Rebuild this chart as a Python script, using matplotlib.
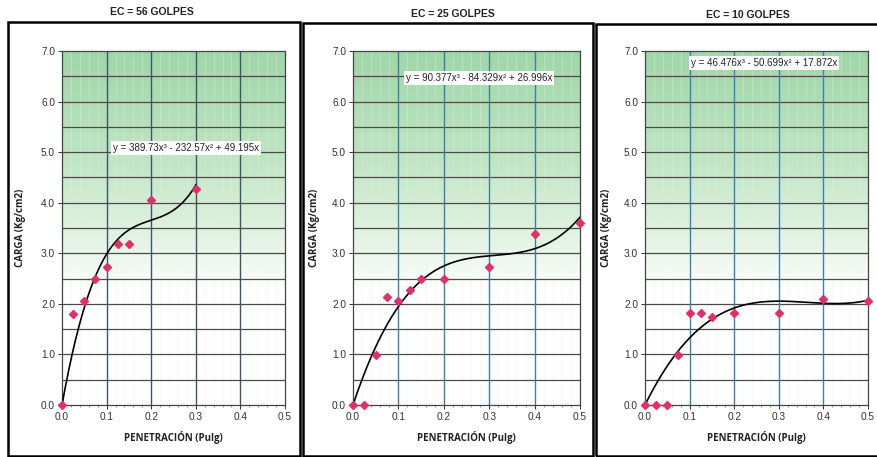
import numpy as np
import matplotlib
matplotlib.use("Agg")
import matplotlib.pyplot as plt
from matplotlib.patches import Rectangle
from matplotlib.colors import LinearSegmentedColormap

plt.rcParams['font.family'] = ['Liberation Sans', 'DejaVu Sans']

titles = ["EC = 56 GOLPES", "EC = 25 GOLPES", "EC = 10 GOLPES"]

x56 = [0.0, 0.025, 0.05, 0.075, 0.1, 0.125, 0.15, 0.2, 0.3]
y56 = [0.0, 1.80, 2.05, 2.50, 2.72, 3.18, 3.18, 4.05, 4.28]
c56 = [389.73, -232.57, 49.195]

x25 = [0.0, 0.025, 0.05, 0.075, 0.1, 0.125, 0.15, 0.2, 0.3, 0.4, 0.5]
y25 = [0.0, 0.0, 0.98, 2.13, 2.05, 2.28, 2.50, 2.50, 2.72, 3.38, 3.60]
c25 = [90.377, -84.329, 26.996]

x10 = [0.0, 0.025, 0.05, 0.075, 0.1, 0.125, 0.15, 0.2, 0.3, 0.4, 0.5]
y10 = [0.0, 0.0, 0.0, 0.98, 1.82, 1.82, 1.75, 1.82, 1.82, 2.10, 2.05]
c10 = [46.476, -50.699, 17.872]

eq_labels = ["y = 389.73x³ - 232.57x² + 49.195x",
             "y = 90.377x³ - 84.329x² + 26.996x",
             "y = 46.476x³ - 50.699x² + 17.872x"]
eq_pos = [(0.277, 5.08), (0.277, 6.47), (0.267, 6.76)]
xmax_fit = [0.3, 0.5, 0.5]

xticks = [0.0, 0.1, 0.2, 0.3, 0.4, 0.5]
yticks = [0.0, 1.0, 2.0, 3.0, 4.0, 5.0, 6.0, 7.0]

W, H = 877, 457
fig = plt.figure(figsize=(W / 100, H / 100), dpi=100)
fig.patch.set_facecolor('white')

def fx(px):
    return px / W

def fy(py):
    return 1 - py / H

frames = [(8, 22, 300, 456), (303, 23, 593, 456), (596, 24, 880, 456)]
for (l, t, r, b) in frames:
    fig.patches.append(Rectangle((fx(l), fy(b)), fx(r - l), (b - t) / H,
                                 transform=fig.transFigure, fill=False,
                                 edgecolor='black', linewidth=1.8, zorder=0))

title_pos = [(152, 12), (453, 14), (748, 15)]
axes_px = [(62, 285), (353, 580), (645, 868)]
ylab_x = [21, 315, 607]
top_px, bot_px = 51, 405

cmap = LinearSegmentedColormap.from_list(
    'g', [(0.0, '#9fd6a8'), (0.30, '#bfe5c2'), (0.55, '#e6f5e6'), (0.68, '#ffffff'), (1.0, '#ffffff')])

datasets = [(x56, y56, c56), (x25, y25, c25), (x10, y10, c10)]
vcolors = ['#3d5566', '#3f7f9e', '#3a7fb5']

for i, (xs, ys, cf) in enumerate(datasets):
    l, r = axes_px[i]
    ax = fig.add_axes([fx(l), fy(bot_px), fx(r - l), (bot_px - top_px) / H])
    grad = np.linspace(1, 0, 256).reshape(-1, 1)
    ax.imshow(grad, aspect='auto', cmap=cmap, vmin=0, vmax=1,
              extent=[0, 0.5, 0, 7], origin='lower', zorder=0)
    ax.set_xlim(0, 0.5)
    ax.set_ylim(0, 7)
    for xv in np.arange(0.02, 0.5, 0.02):
        ax.axvline(xv, color='#e9efe9', linewidth=0.5, alpha=0.5, zorder=1)
    for yv in np.arange(0.5, 7.0, 0.5):
        ax.axhline(yv, color='#4a4a4a', linewidth=0.9, zorder=2)
    for xv in xticks[1:-1]:
        ax.axvline(xv, color=vcolors[i], linewidth=1.0, zorder=2)
    xf = np.linspace(0, xmax_fit[i], 200)
    yf = cf[0] * xf ** 3 + cf[1] * xf ** 2 + cf[2] * xf
    ax.plot(xf, yf, color='black', linewidth=1.2, zorder=3)
    ax.plot(xs, ys, linestyle='none', marker='D', markersize=4.2,
            color='#e0306a', markeredgecolor='#e0306a', zorder=4, clip_on=False)
    ex, ey = eq_pos[i]
    ax.text(ex, ey, eq_labels[i], ha='center', va='center', fontsize=7,
            color='#222222', zorder=5,
            bbox=dict(facecolor='white', edgecolor='none', pad=1.5))
    ax.set_xticks(xticks)
    ax.set_xticklabels([f"{v:.1f}" for v in xticks])
    ax.set_yticks(yticks)
    ax.set_yticklabels([f"{v:.1f}" for v in yticks])
    ax.set_xticks(np.arange(0, 0.501, 0.02), minor=True)
    ax.tick_params(axis='both', which='major', labelsize=7.3, colors='#333333',
                   length=3, width=0.7, direction='out', pad=2)
    ax.tick_params(axis='x', which='minor', length=1.5, width=0.5, colors='#666666')
    for s in ax.spines.values():
        s.set_color('#444444')
        s.set_linewidth(0.9)
    tx, ty = title_pos[i]
    fig.text(fx(tx), fy(ty), titles[i], ha='center', va='center',
             fontsize=7.5, fontweight='bold', color='#222222')
    fig.text(fx((l + r) / 2), fy(437), "PENETRACIÓN (Pulg)", ha='center',
             va='center', fontsize=7, fontweight='bold', color='#222222',
             family=['Open Sans', 'DejaVu Sans'])
    fig.text(fx(ylab_x[i]), fy(228), "CARGA (Kg/cm2)", ha='center', va='center',
             rotation=90, fontsize=7, fontweight='bold', color='#222222',
             family=['Open Sans', 'DejaVu Sans'])

fig.savefig('out.png', dpi=100, facecolor='white')
